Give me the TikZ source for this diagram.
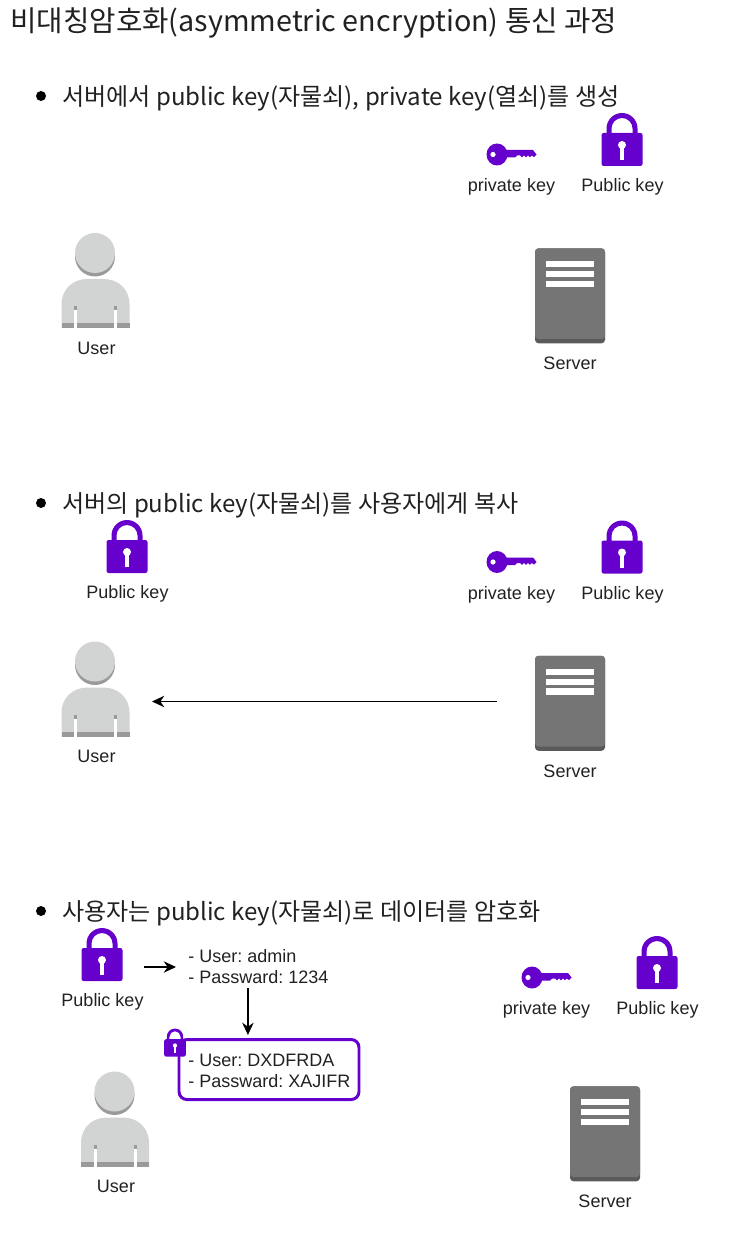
\documentclass[tikz,border=0pt]{standalone}
\usepackage{fontspec}
\setmainfont{Liberation Sans}
\newfontfamily\krfont{Noto Sans CJK KR}
\usetikzlibrary{arrows.meta}
\frenchspacing

\definecolor{keypurple}{HTML}{6600CC}
\definecolor{userlight}{HTML}{D2D3D3}
\definecolor{userdark}{HTML}{9A9A9A}
\definecolor{serverbody}{HTML}{757575}
\definecolor{serverbase}{HTML}{5A5A5A}
\definecolor{inktext}{HTML}{212121}

\def\pxu{0.02cm}

\tikzset{
  headline/.style={anchor=west,inner sep=0pt,text=inktext,font=\krfont\fontsize{16.35}{19}\selectfont},
  itemline/.style={anchor=west,inner sep=0pt,text=inktext,font=\krfont\fontsize{13.68}{16}\selectfont},
  iconlabel/.style={inner sep=0pt,text=inktext,font=\fontsize{10.25}{12}\selectfont},
  datalines/.style={anchor=west,inner sep=0pt,align=left,text=inktext,font=\fontsize{10.25}{11.95}\selectfont},
  iconslot/.style={inner sep=0pt,outer sep=0pt,minimum width=#1*\pxu},
  flow/.style={line width=0.75pt,-{Stealth[length=7pt,width=6.5pt]}},
  pics/padlock/.style={code={
    \node[iconslot=41] (-box) at (0,0) {};
    \fill[keypurple] (-15.5,-10) -- (-15.5,-16.5) arc (180:360:15.5) -- (15.5,-10)
      -- (10.5,-10) -- (10.5,-16.5) arc (360:180:10.5) -- (-10.5,-10) -- cycle;
    \fill[keypurple,rounded corners=1.2pt] (-20.5,-12) rectangle (20.5,21);
    \fill[white] (0,0) circle (4);
    \fill[white] (-1.6,0) rectangle (1.6,15);
  }},
  pics/keyicon/.style={code={
    \fill[keypurple] (0,0) ellipse (10.5 and 11);
    \fill[keypurple] (8,-4.5) -- (36,-4.5) -- (39.5,0) -- (37,2.5) -- (34.5,1) -- (33,2.8) -- (31,1)
      -- (29,2.8) -- (27,1) -- (25,2.8) -- (23,1) -- (20,1) -- (18,3) -- (8,3) -- cycle;
    \fill[white] (-4,0) circle (2.6);
  }},
  pics/usericon/.style={code={
    \node[iconslot=68] (-box) at (0,0) {};
    \fill[userdark] (-0.5,-24) circle (20);
    \fill[userlight] (-0.5,-27.5) circle (20);
    % Body
    \fill[userlight] (-34,47.5) -- (-34,24) .. controls (-34,8) and (-22,-1.5) .. (-8,-1.5)
      -- (8,-1.5) .. controls (22,-1.5) and (34,8) .. (34,24) -- (34,47.5) -- cycle;
    \fill[userdark] (-34,43) rectangle (34,47.5);
    % Arm gaps
    \fill[userdark] (-21.2,25.5) rectangle (-18.2,30);
    \fill[userdark] (18.5,25.5) rectangle (21.5,30);
    \fill[white] (-21.2,30) rectangle (-18.2,47.5);
    \fill[white] (18.5,30) rectangle (21.5,47.5);
  }},
  pics/servericon/.style={code={
    \node[iconslot=70] (-box) at (0,0) {};
    \fill[serverbase,rounded corners=2pt] (-35,-45.7) rectangle (35,49.3);
    \fill[serverbody,rounded corners=2pt] (-35,-45.7) rectangle (35,45);
    \fill[white] (-24.3,-33) rectangle (24,-26.7);
    \fill[white] (-24.3,-23) rectangle (24,-16.7);
    \fill[white] (-24.3,-13.3) rectangle (24,-7);
  }},
}

\begin{document}
\begin{tikzpicture}[x=\pxu,y=-\pxu]
  \useasboundingbox (0,0) rectangle (748,1236);

  % Title
  \node[headline] (title) at (10,22.5) {비대칭암호화(asymmetric encryption) 통신 과정};

  % First step: keys on the server
  \fill[black] (41,96) circle (5);
  \node[itemline] (itemone) at (62,98) {서버에서 public key(자물쇠), private key(열쇠)를 생성};
  \pic (keyone) at (497,154.5) {keyicon};
  \pic (lockone) at (622,145) {padlock};
  \node[iconlabel] (keyonetext) at (511.5,187) {private key};
  \node[iconlabel] (lockonetext) at (622.5,187) {Public key};
  \pic (userone) at (95.5,280.5) {usericon};
  \node[iconlabel] (useronetext) at (96.5,348) {User};
  \pic (serverone) at (570,294) {servericon};
  \node[iconlabel] (serveronetext) at (570,363) {Server};

  % Second step: copy to the user
  \fill[black] (41,503) circle (5);
  \node[itemline] (itemtwo) at (62,505) {서버의 public key(자물쇠)를 사용자에게 복사};
  \pic (lockcopy) at (127,552) {padlock};
  \node[iconlabel] (lockcopytext) at (127.5,594) {Public key};
  \pic (keytwo) at (497,562) {keyicon};
  \pic (locktwo) at (622,552.5) {padlock};
  \node[iconlabel] (keytwotext) at (511.5,594.5) {private key};
  \node[iconlabel] (locktwotext) at (622.5,594.5) {Public key};
  \pic (usertwo) at (95.5,689) {usericon};
  \node[iconlabel] (usertwotext) at (96.5,756) {User};
  \pic (servertwo) at (570,701.5) {servericon};
  \node[iconlabel] (servertwotext) at (570,771) {Server};
  \draw[flow,shorten <=38*\pxu,shorten >=22.5*\pxu]
    (servertwo-box.west) -- (servertwo-box.west -| usertwo-box.east);

  % Third step: encrypting the data
  \fill[black] (41,911) circle (5);
  \node[itemline] (itemthree) at (62,913) {사용자는 public key(자물쇠)로 데이터를 암호화};
  \pic (lockthree) at (102,960) {padlock};
  \node[iconlabel] (lockthreetext) at (102.5,1002) {Public key};
  \node[datalines] (plain) at (188,967) {- User: admin\\- Passward: 1234};
  \node[draw=keypurple,line width=1.7pt,rounded corners=4.5pt,inner sep=0pt,
    minimum width=180*\pxu,minimum height=60*\pxu] (cipher) at (269,1069.5) {};
  \node[datalines] (ciphertext) at (188,1070.5) {- User: DXDFRDA\\- Passward: XAJIFR};
  \pic[scale=0.53] (locksmall) at (175,1045.5) {padlock};
  \draw[flow,shorten <=21.5*\pxu] (lockthree-box.east |- plain.west) -- ([xshift=-12*\pxu]plain.west);
  \draw[flow] ([xshift=-10.5*\pxu,yshift=-4*\pxu]plain.south)
    -- ([xshift=-10.5*\pxu,yshift=3*\pxu]plain.south |- cipher.north);
  \pic (keythree) at (532,977.5) {keyicon};
  \pic (lockfar) at (657,968) {padlock};
  \node[iconlabel] (keythreetext) at (546.5,1010) {private key};
  \node[iconlabel] (lockfartext) at (657.5,1010) {Public key};
  \pic (userthree) at (115,1119) {usericon};
  \node[iconlabel] (userthreetext) at (116,1186) {User};
  \pic (serverthree) at (605,1132) {servericon};
  \node[iconlabel] (serverthreetext) at (605,1201) {Server};

\end{tikzpicture}
\end{document}
